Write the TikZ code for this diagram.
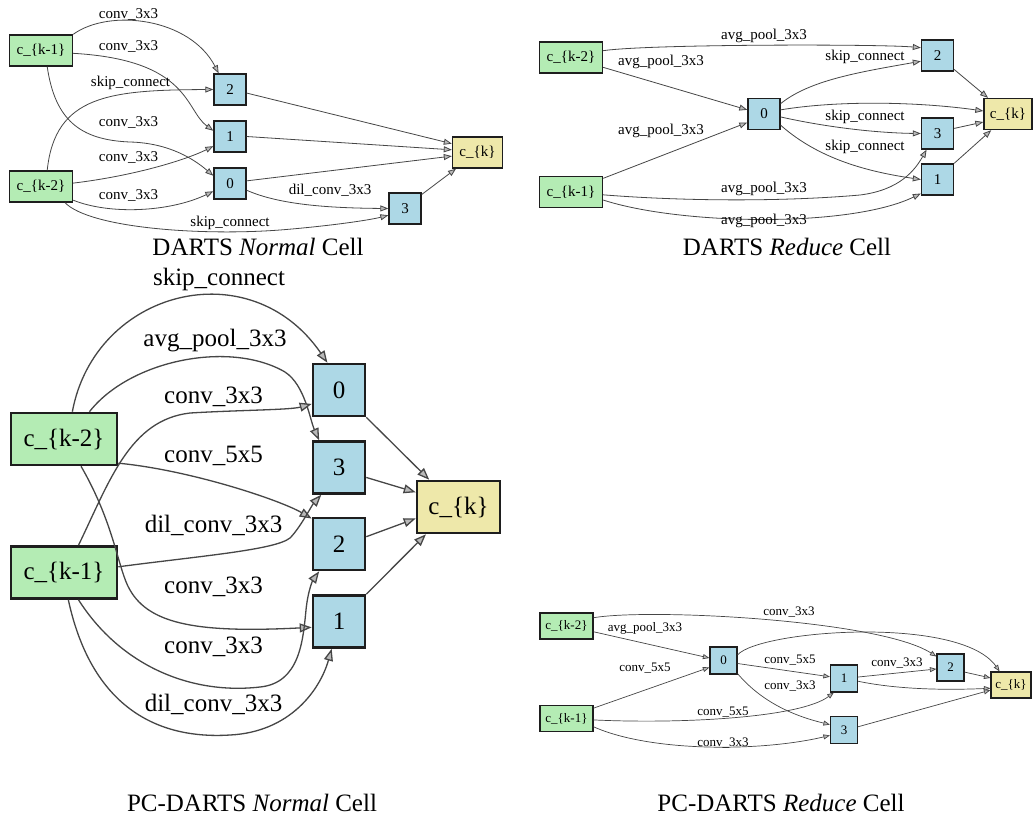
\documentclass[tikz,border=0pt]{standalone}
\usepackage{fontspec}
\setmainfont{Liberation Serif}
\usetikzlibrary{arrows.meta}
\definecolor{ingreen}{RGB}{180,236,180}
\definecolor{midblue}{RGB}{173,216,230}
\definecolor{outyellow}{RGB}{238,232,170}
\definecolor{bordc}{RGB}{30,30,30}
\definecolor{edgec}{RGB}{70,70,70}
\definecolor{tipfill}{RGB}{185,185,185}
\tikzset{
  boxA/.style={draw=bordc, line width=1.4pt, inner sep=0, minimum height=31pt, font=\fontsize{15}{18}\selectfont},
  inA/.style={boxA, fill=ingreen, minimum width=63pt},
  midA/.style={boxA, fill=midblue, minimum width=32pt},
  outA/.style={boxA, fill=outyellow, minimum width=50pt},
  lblA/.style={inner sep=0, font=\fontsize{15}{18}\selectfont},
  edgeA/.style={draw=edgec, line width=0.8pt, -{Triangle[length=8pt,width=6pt,fill=tipfill]}},
  boxB/.style={draw=bordc, line width=2.6pt, inner sep=0, minimum height=52pt, font=\fontsize{25}{30}\selectfont},
  inB/.style={boxB, fill=ingreen, minimum width=106pt},
  midB/.style={boxB, fill=midblue, minimum width=52pt},
  outB/.style={boxB, fill=outyellow, minimum width=83pt},
  lblB/.style={inner sep=0, font=\fontsize{25}{30}\selectfont},
  edgeB/.style={draw=edgec, line width=1.3pt, -{Triangle[length=12pt,width=9pt,fill=tipfill]}},
  boxC/.style={draw=bordc, line width=1.2pt, inner sep=0, minimum height=26pt, font=\fontsize{13}{16}\selectfont},
  inC/.style={boxC, fill=ingreen, minimum width=53pt},
  midC/.style={boxC, fill=midblue, minimum width=27pt, minimum height=27pt},
  outC/.style={boxC, fill=outyellow, minimum width=40pt},
  lblC/.style={inner sep=0, font=\fontsize{13}{16}\selectfont},
  edgeC/.style={draw=edgec, line width=0.7pt, -{Triangle[length=6.5pt,width=5pt,fill=tipfill]}},
  capt/.style={inner sep=0, font=\fontsize{25}{29}\selectfont},
}
\begin{document}
\begin{tikzpicture}[x=1pt,y=-1pt]
\useasboundingbox (0,0) rectangle (1033,823);
\fill[white] (0,0) rectangle (1033,823);

% ---------------- DARTS Normal Cell ----------------
\node[inA] (ak1) at (41,50.5) {c\_\{k-1\}};
\node[inA] (ak2) at (41,186.5) {c\_\{k-2\}};
\node[midA] (a2) at (230,89.5) {2};
\node[midA] (a1) at (230,136.5) {1};
\node[midA] (a0) at (230,183.5) {0};
\node[midA] (a3) at (405,208.5) {3};
\node[outA] (ak) at (477.5,152.5) {c\_\{k\}};

\draw[edgeA] (ak1.north east) .. controls (110,8) and (190,18) .. (a2.125);
\draw[edgeA] (ak1.-5) .. controls (190,60) and (185,110) .. (a1.161);
\draw[edgeA] (ak1.-69) .. controls (55,120) and (80,140) .. (130,142) .. controls (170,143) and (195,160) .. (a0.155);
\draw[edgeA] (ak2.69) .. controls (55,95) and (110,90) .. (a2.180);
\draw[edgeA] (ak2.6) .. controls (140,175) and (190,158) .. (a1.-150);
\draw[edgeA] (ak2.-23) .. controls (110,215) and (170,212) .. (a0.-155);
\draw[edgeA] (ak2.-34) .. controls (90,228) and (200,236) .. (280,230) .. controls (330,226) and (370,220) .. (a3.-158);
\draw[edgeA] (a0.-22) .. controls (280,205) and (330,208) .. (a3.west);
\draw[edgeA] (a2.-12) -- (ak.161);
\draw[edgeA] (a1.east) -- (ak.174);
\draw[edgeA] (a0.9) -- (ak.-172);
\draw[edgeA] (a3.40) -- (ak.-143);

\node[lblA] (la1) at (128.5,14) {conv\_3x3};
\node[lblA] (la2) at (128.5,46) {conv\_3x3};
\node[lblA] (la3) at (130.5,83) {skip\_connect};
\node[lblA] (la4) at (128.5,122) {conv\_3x3};
\node[lblA] (la5) at (128.5,157) {conv\_3x3};
\node[lblA] (la6) at (128.5,195) {conv\_3x3};
\node[lblA] (la7) at (230,223) {skip\_connect};
\node[lblA] (la8) at (330,190) {dil\_conv\_3x3};

\node[capt] (capA) at (258,247) {DARTS \textit{Normal} Cell};

% ---------------- DARTS Reduce Cell ----------------
\node[inA] (bk2) at (571,57.5) {c\_\{k-2\}};
\node[inA] (bk1) at (571,192) {c\_\{k-1\}};
\node[midA] (b0) at (764,114) {0};
\node[midA] (b2) at (937.5,55.5) {2};
\node[midA] (b3) at (937.5,133.5) {3};
\node[midA] (b1) at (937.5,179.5) {1};
\node[outA, minimum width=48pt] (bk) at (1008,114) {c\_\{k\}};

\draw[edgeA] (bk2.12) .. controls (650,44) and (880,44) .. (b2.155);
\draw[edgeA] (bk2.-17) -- (b0.166);
\draw[edgeA] (bk1.23) -- (b0.-153);
\draw[edgeA] (bk1.-5.5) .. controls (680,201) and (780,202) .. (860,195) .. controls (900,190) and (915,170) .. (b3.-124);
\draw[edgeA] (bk1.-14.5) .. controls (680,225) and (850,228) .. (b1.-140);
\draw[edgeA] (b0.32) .. controls (810,80) and (860,72) .. (b2.-161);
\draw[edgeA] (b0.14) .. controls (840,100) and (920,102) .. (bk.173);
\draw[edgeA] (b0.-10.6) .. controls (830,128) and (880,133) .. (b3.west);
\draw[edgeA] (b0.-34.5) .. controls (820,160) and (870,172) .. (b1.west);
\draw[edgeA] (b2.-40) -- (bk.141);
\draw[edgeA] (b3.17) -- (bk.-162);
\draw[edgeA] (b1.north east) -- (bk.-136);

\node[lblA] (lb1) at (764,36) {avg\_pool\_3x3};
\node[lblA] (lb2) at (661,62) {avg\_pool\_3x3};
\node[lblA] (lb3) at (661,131) {avg\_pool\_3x3};
\node[lblA] (lb4) at (764,189) {avg\_pool\_3x3};
\node[lblA] (lb5) at (764,221) {avg\_pool\_3x3};
\node[lblA] (lb6) at (865,57) {skip\_connect};
\node[lblA] (lb7) at (865,117) {skip\_connect};
\node[lblA] (lb8) at (865,147) {skip\_connect};

\node[capt] (capB) at (787,247) {DARTS \textit{Reduce} Cell};

% ---------------- PC-DARTS Normal Cell ----------------
\node[inB] (ck2) at (64,439) {c\_\{k-2\}};
\node[inB] (ck1) at (64,572.5) {c\_\{k-1\}};
\node[midB] (c0) at (339,390) {0};
\node[midB] (c3) at (339,467.5) {3};
\node[midB] (c2) at (339,544) {2};
\node[midB] (c1) at (339,621.5) {1};
\node[outB] (ck) at (458.5,507) {c\_\{k\}};

\draw[edgeB] (ck2.73) .. controls (95,290) and (250,250) .. (c0.113);
\draw[edgeB] (ck2.47) .. controls (130,360) and (230,340) .. (285,372) .. controls (305,385) and (310,420) .. (c3.126);
\draw[edgeB] (ck1.62) .. controls (110,480) and (130,420) .. (190,413) .. controls (240,410) and (290,410) .. (c0.-153);
\draw[edgeB] (ck2.-24) .. controls (190,470) and (280,500) .. (c2.137);
\draw[edgeB] (ck1.6) .. controls (200,556) and (275,550) .. (290,538) .. controls (300,528) and (312,505) .. (c3.-123);
\draw[edgeB] (ck2.-58) .. controls (115,525) and (118,570) .. (130,590) .. controls (150,625) and (200,633) .. (c1.-168);
\draw[edgeB] (ck1.-62) .. controls (120,665) and (190,695) .. (260,687) .. controls (300,683) and (303,640) .. (306,610) .. controls (308,590) and (313,580) .. (c2.-126);
\draw[edgeB] (ck1.-81) .. controls (90,700) and (150,740) .. (230,735) .. controls (290,732) and (320,690) .. (c1.-105);
\draw[edgeB] (c0.south east) -- (ck.137);
\draw[edgeB] (c3.-20) -- (ck.161);
\draw[edgeB] (c2.15) -- (ck.-165);
\draw[edgeB] (c1.north east) -- (ck.-140);

\node[lblB] (lc1) at (219,279) {skip\_connect};
\node[lblB] (lc2) at (215,341) {avg\_pool\_3x3};
\node[lblB] (lc3) at (213.5,397) {conv\_3x3};
\node[lblB] (lc4) at (213.5,456) {conv\_5x5};
\node[lblB] (lc5) at (213.5,525) {dil\_conv\_3x3};
\node[lblB] (lc6) at (213.5,587) {conv\_3x3};
\node[lblB] (lc7) at (213.5,647) {conv\_3x3};
\node[lblB] (lc8) at (213.5,704) {dil\_conv\_3x3};

\node[capt] (capC) at (252,803) {PC-DARTS \textit{Normal} Cell};

% ---------------- PC-DARTS Reduce Cell ----------------
\node[inC] (dk2) at (566.5,626) {c\_\{k-2\}};
\node[inC] (dk1) at (566.5,718.5) {c\_\{k-1\}};
\node[midC] (d0) at (723.5,660.5) {0};
\node[midC] (d1) at (844,678.5) {1};
\node[midC] (d2) at (950.5,667.5) {2};
\node[midC] (d3) at (844,730) {3};
\node[outC] (dk) at (1011,685) {c\_\{k\}};

\draw[edgeC] (dk2.17) .. controls (650,608) and (880,620) .. (d2.142);
\draw[edgeC] (dk2.-12.8) -- (d0.170);
\draw[edgeC] (dk1.21.6) -- (d0.-154);
\draw[edgeC] (d0.22) .. controls (760,630) and (960,615) .. (dk.130);
\draw[edgeC] (d0.-12.5) -- (d1.173);
\draw[edgeC] (d0.-43) .. controls (760,700) and (790,715) .. (d3.159);
\draw[edgeC] (dk1.-3) .. controls (680,724) and (800,718) .. (d1.-126.5);
\draw[edgeC] (dk1.-17.8) .. controls (650,752) and (760,752) .. (d3.-159);
\draw[edgeC] (d1.6) -- (d2.-174);
\draw[edgeC] (d1.-11) .. controls (900,690) and (950,690) .. (dk.-171);
\draw[edgeC] (d2.-18) -- (dk.161);
\draw[edgeC] (d3.13) -- (dk.-166);

\node[lblC] (ld1) at (789,612) {conv\_3x3};
\node[lblC] (ld2) at (645,628) {avg\_pool\_3x3};
\node[lblC] (ld3) at (645,668) {conv\_5x5};
\node[lblC] (ld4) at (790,660) {conv\_5x5};
\node[lblC] (ld5) at (790,686) {conv\_3x3};
\node[lblC] (ld6) at (897,663) {conv\_3x3};
\node[lblC] (ld7) at (723,712) {conv\_5x5};
\node[lblC] (ld8) at (723,743) {conv\_3x3};

\node[capt] (capD) at (781,803) {PC-DARTS \textit{Reduce} Cell};
\end{tikzpicture}
\end{document}
